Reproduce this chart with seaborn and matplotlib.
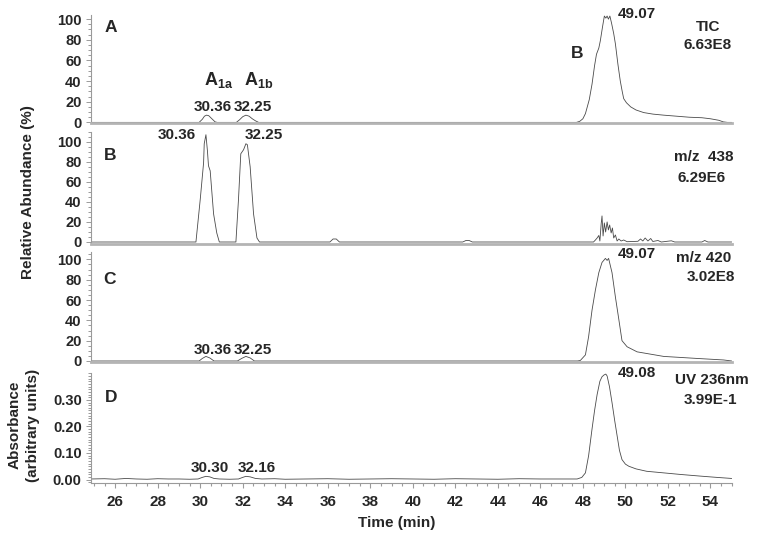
import matplotlib
matplotlib.use("Agg")
import matplotlib.pyplot as plt
import seaborn as sns
import pandas as pd
from matplotlib.ticker import MultipleLocator

# ---------------- data ----------------
# Panel A: TIC (relative abundance, %)
tic_time = [24.85, 29.95, 30.1, 30.2, 30.3, 30.4, 30.55, 30.7, 30.8,
            31.7, 31.85, 32.0, 32.15, 32.3, 32.45, 32.6, 32.75,
            47.7, 47.85, 48.0, 48.12, 48.3, 48.43, 48.55, 48.64, 48.75, 48.82, 48.92,
            49.01, 49.08, 49.14, 49.2, 49.27, 49.35, 49.45, 49.53, 49.65, 49.76, 49.85,
            49.92, 50.05, 50.25, 50.5, 50.86, 51.3, 51.8, 52.4, 53.0, 53.6, 54.0, 54.4,
            54.6, 54.8, 55.0]
tic_abund = [0, 0, 3, 6, 7, 6.5, 3.5, 0.5, 0,
             0, 2.5, 5.5, 7, 6, 3.5, 1.5, 0,
             0, 1, 3.5, 8.5, 22, 37, 55, 66, 72, 79, 92,
             103, 101, 103, 100, 103, 96, 86, 76, 56, 40, 30,
             23, 19, 15, 12, 9.5, 8, 7, 6, 5, 4.5, 3.5, 2,
             0.5, 0, 0]

# Panel B: m/z 438 extracted ion chromatogram
mz438_time = [24.85, 29.8, 30.0, 30.16, 30.19, 30.27, 30.34, 30.39, 30.47, 30.63, 30.78, 30.9,
              31.68, 31.8, 31.91, 32.04, 32.15, 32.22, 32.35, 32.51, 32.67, 32.79,
              36.1, 36.25, 36.4, 36.55, 42.35, 42.5, 42.65, 42.8,
              48.5, 48.59, 48.67, 48.75, 48.8, 48.86, 48.9, 48.95, 49.01, 49.07, 49.14,
              49.2, 49.26, 49.33, 49.39, 49.45, 49.53, 49.61, 49.69, 49.8, 49.92, 50.08,
              50.59, 50.71, 50.82, 50.93, 51.06, 51.19, 51.29, 51.53, 51.69, 52.16, 52.32,
              53.6, 53.73, 53.88, 55.0]
mz438_abund = [0, 0, 42, 79, 98, 107, 91, 76, 71, 28, 9, 0,
               0, 42, 88, 92, 98, 97, 75, 28, 4, 0,
               0, 3, 3, 0, 0, 1.5, 1.5, 0,
               0, 2, 4, 6.5, 1, 18, 26, 6, 19, 10, 20,
               12, 17, 9, 14, 4, 7, 1, 3, 1, 2, 0.3,
               0.7, 3, 1, 4, 1, 3.5, 0.5, 1.5, 0, 1.2, 0,
               0, 1.5, 0, 0]

# Panel C: m/z 420 extracted ion chromatogram
mz420_time = [24.85, 29.95, 30.1, 30.27, 30.45, 30.65, 31.75, 31.95, 32.15, 32.35, 32.55,
              47.75, 47.88, 48.12, 48.27, 48.43, 48.59, 48.75, 48.9, 49.06, 49.14, 49.21,
              49.37, 49.53, 49.69, 49.84, 50.08, 50.55, 51.8, 53.37, 54.62, 55.0]
mz420_abund = [0, 0, 2.5, 4.5, 3, 0, 0, 2.5, 4.5, 3, 0,
               0, 0.5, 6, 24, 50, 70, 87, 97, 101, 99, 101,
               87, 63, 41, 20, 14, 9, 4.5, 2.5, 1, 0]

# Panel D: UV 236 nm absorbance (arbitrary units)
uv_time = [24.85, 25.5, 26.0, 26.5, 27.0, 27.5, 28.0, 28.5, 29.0, 29.5, 29.9,
           30.1, 30.27, 30.45, 30.65, 30.9, 31.4, 31.8, 32.0, 32.15, 32.35, 32.6, 32.9,
           33.5, 34.0, 35.0, 36.0, 37.0, 38.0, 39.0, 40.0, 41.0, 42.0, 43.0, 44.0, 45.0,
           46.0, 47.0, 47.73, 47.95, 48.12, 48.27, 48.43, 48.55, 48.67, 48.8, 48.9, 49.0,
           49.08, 49.14, 49.25, 49.37, 49.5, 49.6, 49.72, 49.84, 50.0, 50.16, 50.5, 51.0,
           51.8, 52.6, 53.5, 54.3, 55.0]
uv_abs = [0.002, 0.003, 0.001, 0.004, 0.002, 0.001, 0.003, 0.002, 0.002, 0.001, 0.002,
          0.008, 0.012, 0.010, 0.004, 0.002, 0.001, 0.002, 0.008, 0.012, 0.010, 0.004, 0.002,
          0.003, 0.001, 0.002, 0.003, 0.001, 0.002, 0.003, 0.002, 0.001, 0.003, 0.002, 0.001, 0.003,
          0.002, 0.002, 0.002, 0.008, 0.025, 0.09, 0.19, 0.26, 0.32, 0.37, 0.387, 0.394,
          0.397, 0.39, 0.35, 0.29, 0.22, 0.17, 0.11, 0.075, 0.058, 0.05, 0.04, 0.031,
          0.025, 0.019, 0.013, 0.008, 0.004]

x_ticks = [26, 28, 30, 32, 34, 36, 38, 40, 42, 44, 46, 48, 50, 52, 54]
abund_ticks = [0, 20, 40, 60, 80, 100]
uv_ticks = [0.00, 0.10, 0.20, 0.30]

# ---------------- styling ----------------
sns.set_style("white")
plt.rcParams["font.family"] = ["Liberation Sans", "DejaVu Sans"]
plt.rcParams["font.weight"] = "bold"
plt.rcParams["mathtext.fontset"] = "custom"
plt.rcParams["mathtext.rm"] = "Liberation Sans:bold"
plt.rcParams["mathtext.bf"] = "Liberation Sans:bold"
plt.rcParams["mathtext.it"] = "Liberation Sans:bold"

W, H = 757, 537
fig = plt.figure(figsize=(W / 100, H / 100), dpi=100)

X0, X1 = 90.7, 731.7


def make_axes(top, bottom):
    return fig.add_axes([X0 / W, 1 - bottom / H, (X1 - X0) / W, (bottom - top) / H])


SPINE = "#9a9a9a"
LINE = "#4a4a4a"

panels = [
    (tic_time, tic_abund, (15, 123), (-0.6, 104)),
    (mz438_time, mz438_abund, (131.7, 243.5), (-1.5, 110)),
    (mz420_time, mz420_abund, (252.3, 362), (-1.0, 107)),
    (uv_time, uv_abs, (373.3, 482.7), (-0.012, 0.40)),
]

axes = []
for i, (t, v, (top, bot), ylim) in enumerate(panels):
    ax = make_axes(top, bot)
    df = pd.DataFrame({"t": t, "v": v})
    sns.lineplot(data=df, x="t", y="v", ax=ax, color=LINE, linewidth=0.6,
                 estimator=None, sort=False)
    ax.set_xlim(24.85, 55.0)
    ax.set_ylim(*ylim)
    ax.set_xlabel("")
    ax.set_ylabel("")
    ax.patch.set_alpha(0)
    for s in ("top", "right"):
        ax.spines[s].set_visible(False)
    ax.spines["left"].set_color(SPINE)
    ax.spines["left"].set_linewidth(0.8)
    if i < 3:
        ax.spines["bottom"].set_color("#b4b4b4")
        ax.spines["bottom"].set_linewidth(2.0)
        ax.set_yticks(abund_ticks)
        ax.yaxis.set_minor_locator(MultipleLocator(5))
        ax.set_xticks([])
        ax.tick_params(axis="x", bottom=False, labelbottom=False)
    else:
        ax.spines["bottom"].set_color(SPINE)
        ax.spines["bottom"].set_linewidth(0.8)
        ax.set_yticks(uv_ticks)
        ax.set_yticklabels([f"{v:.2f}" for v in uv_ticks])
        ax.yaxis.set_minor_locator(MultipleLocator(0.01))
        ax.set_xticks(x_ticks)
        ax.xaxis.set_minor_locator(MultipleLocator(0.5))
        ax.tick_params(axis="x", which="both", bottom=True, direction="out",
                       color=SPINE, width=0.8, labelsize=11, pad=5)
        ax.tick_params(axis="x", which="major", length=3.5)
        ax.tick_params(axis="x", which="minor", length=2.5)
    ax.tick_params(axis="y", which="both", left=True, direction="out",
                   color=SPINE, width=0.7, labelsize=10.5, pad=3)
    ax.tick_params(axis="y", which="major", length=3.5)
    ax.tick_params(axis="y", which="minor", length=2)
    for lab in ax.get_xticklabels() + ax.get_yticklabels():
        lab.set_fontweight("bold")
    axes.append(ax)


def label(txt, x, y, size=11, **kw):
    fig.text(x / W, 1 - y / H, txt, ha="center", va="center",
             fontsize=size, fontweight="bold", **kw)


# panel letters
label("A", 111, 27, 12.5)
label("B", 110, 155, 12.5)
label("C", 110, 280, 12.5)
label("D", 111, 398, 12.5)

# panel A annotations
label(r"$\mathbf{A}_{\mathbf{1a}}$", 219, 80, 13)
label(r"$\mathbf{A}_{\mathbf{1b}}$", 259, 80, 13)
label("30.36", 213, 107)
label("32.25", 253, 107)
label("B", 577, 53, 12.5)
label("49.07", 637, 14)
label("TIC", 708, 27)
label("6.63E8", 708, 45)

# panel B annotations
label("30.36", 177, 135)
label("32.25", 264, 135)
label("m/z  438", 704, 157)
label("6.29E6", 702, 178)

# panel C annotations
label("30.36", 213, 350)
label("32.25", 253, 350)
label("49.07", 637, 254)
label("m/z 420", 704, 258)
label("3.02E8", 711, 277)

# panel D annotations
label("30.30", 210, 468)
label("32.16", 257, 468)
label("49.08", 637, 373)
label("UV 236nm", 712, 380)
label("3.99E-1", 710, 400)

# axis titles
label("Relative Abundance (%)", 28, 192, 11, rotation=90)
label("Absorbance", 15, 425, 11, rotation=90)
label("(arbitrary units)", 33, 425, 11, rotation=90)
label("Time (min)", 397, 523, 11)

fig.savefig("out.png", dpi=100)
